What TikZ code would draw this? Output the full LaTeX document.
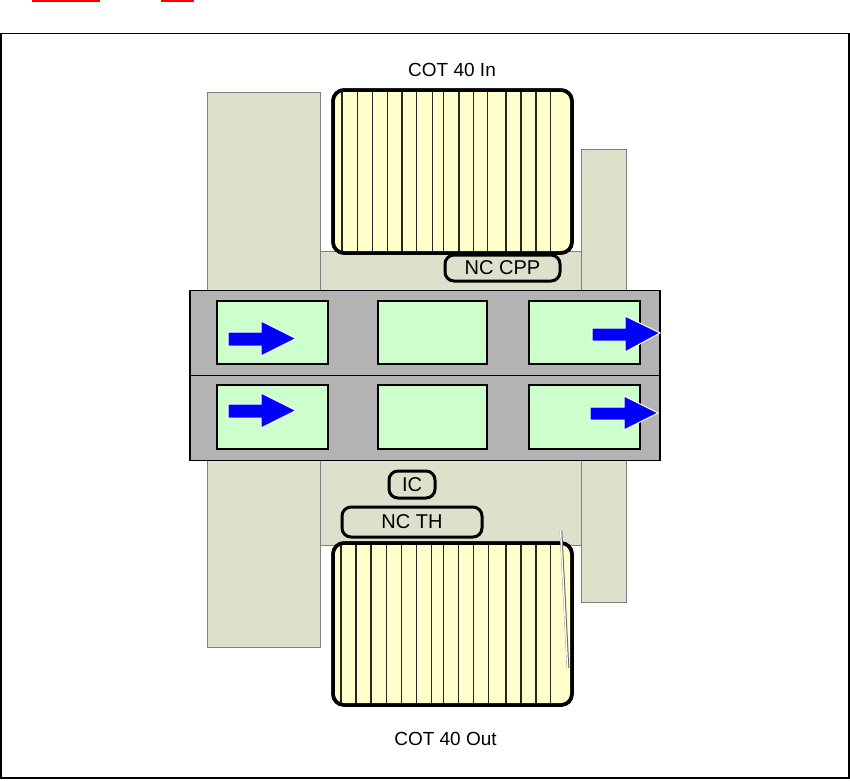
\documentclass[tikz,border=0pt]{standalone}
\usepackage{fontspec}
\setmainfont{Liberation Sans}
\definecolor{panelc}{HTML}{DDE0CB}
\definecolor{bandc}{HTML}{B3B3B3}
\definecolor{boxc}{HTML}{CCFFCC}
\definecolor{coilc}{HTML}{FFFFCC}
\definecolor{arrowc}{HTML}{0000FF}
\begin{document}
\begin{tikzpicture}[x=1pt,y=-1pt,
  panel/.style={fill=panelc,draw=black!50,line width=0.8pt},
  band/.style={fill=bandc,draw=black,line width=1.3pt},
  gbox/.style={fill=boxc,draw=black,line width=1.3pt},
  coilbox/.style={fill=coilc,draw=black,line width=3.5pt,rounded corners=11pt},
  winding/.style={draw=black!85,line width=1.4pt},
  tag/.style={draw=black,line width=3pt,rounded corners=9pt,inner sep=0pt,font=\fontsize{20}{24}\selectfont},
  caption/.style={font=\fontsize{19}{23}\selectfont,inner sep=0pt},
  flow/.style={fill=arrowc,draw=white,line width=1pt,line join=miter}]
\useasboundingbox (0,0) rectangle (850,780);
% red marks at top
\draw[red,line width=1.5pt] (32,0.8) -- (100,0.8) (161,0.8) -- (194,0.8);
% frame
\draw[line width=1.5pt] (0.75,33.5) rectangle (849,778);
% background panels
\draw[panel] (207.7,92.7) rectangle (320.7,647);
\draw[panel] (320.7,251.7) rectangle (581.7,545.7);
\draw[panel] (581.7,149.3) rectangle (626.7,602);
% top coil
\path[coilbox] (333,90) rectangle (572,253);
\foreach \xx in {342,357.3,372.3,387.3,402,416.7,432.3,443.3,459,473.3,487.7,506,521,536,550.7}
  \draw[winding] (\xx,91) -- (\xx,252);
\node[coilbox,fill=none,minimum width=239pt,minimum height=163pt,inner sep=0pt] (cin) at (452.5,171.5) {};
% bottom coil
\path[coilbox] (333,543) rectangle (572,705);
\foreach \xx in {341,356,371,386.7,401.7,416.7,431.7,443.3,458.3,473.3,488.3,506,521,536,550.7}
  \draw[winding] (\xx,544) -- (\xx,704);
\node[coilbox,fill=none,minimum width=239pt,minimum height=162pt,inner sep=0pt] (cout) at (452.5,624) {};
% white scratch line
\coordinate (s1) at (561,531);
\coordinate (s2) at (568,668);
\draw[black!60,line width=2.6pt] (s1) -- (s2);
\draw[white,line width=1.4pt] ([xshift=-0.4pt]s1) -- ([xshift=-0.4pt]s2);
% bands
\draw[band] (190,290.7) rectangle (660,375.5);
\draw[band] (190,375.5) rectangle (660,460.7);
% boxes
\node[gbox,minimum width=111pt,minimum height=63pt,inner sep=0pt] (b11) at (272.5,332.5) {};
\node[gbox,minimum width=109pt,minimum height=63pt,inner sep=0pt] (b12) at (432.5,332.5) {};
\node[gbox,minimum width=111pt,minimum height=63pt,inner sep=0pt] (b13) at (584.5,332.5) {};
\node[gbox,minimum width=111pt,minimum height=64pt,inner sep=0pt] (b21) at (272.5,417) {};
\node[gbox,minimum width=109pt,minimum height=64pt,inner sep=0pt] (b22) at (432.5,417) {};
\node[gbox,minimum width=111pt,minimum height=64pt,inner sep=0pt] (b23) at (584.5,417) {};
% arrows
\draw[flow] (228,332) -- (261,332) -- (261,321) -- (296,338.5) -- (261,356) -- (261,346) -- (228,346) -- cycle;
\draw[flow] (228,404) -- (261,404) -- (261,393) -- (296,410.5) -- (261,428) -- (261,418) -- (228,418) -- cycle;
\draw[flow] (592,328) -- (625,328) -- (625,316) -- (660,333) -- (625,352) -- (625,341) -- (592,341) -- cycle;
\draw[flow] (590,407) -- (624,407) -- (624,396) -- (658,413) -- (624,430) -- (624,420) -- (590,420) -- cycle;
% tags
\node[tag,minimum width=115pt,minimum height=26pt,fill=panelc] (cpp) at (502.5,268) {NC CPP};
\node[tag,minimum width=46pt,minimum height=27pt,fill=panelc] (ic) at (412,484.5) {IC};
\node[tag,minimum width=140pt,minimum height=30pt,fill=panelc] (th) at (412,522) {NC TH};
% captions
\node[caption] (tin) at (452,70) {COT 40 In};
\node[caption] (tout) at (445.5,738.5) {COT 40 Out};
\end{tikzpicture}
\end{document}
